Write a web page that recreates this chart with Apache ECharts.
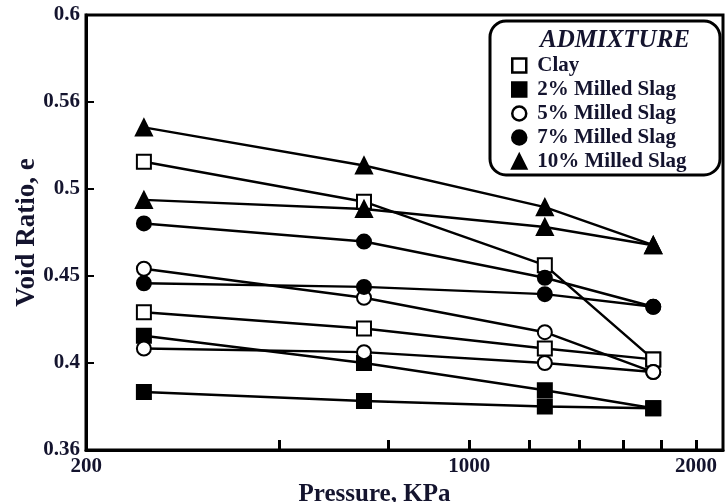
<!DOCTYPE html>
<html>
<head>
<meta charset="utf-8">
<script src="https://cdn.jsdelivr.net/npm/echarts@6/dist/echarts.min.js"></script>
<style>
  html, body { margin: 0; padding: 0; background: #fff; }
  #chart { width: 725px; height: 502px; }
</style>
</head>
<body>
<div id="chart"></div>
<script>
// Consolidation pressure (kPa) of each loading stage
const pressures = [370, 725, 1260, 1755];

// Void ratio e, two test curves per admixture
const clayUpper   = [0.519, 0.497, 0.462, 0.410];
const clayLower   = [0.436, 0.427, 0.416, 0.410];
const slag2Upper  = [0.423, 0.408, 0.393, 0.383];
const slag2Lower  = [0.392, 0.387, 0.384, 0.383];
const slag5Upper  = [0.460, 0.444, 0.425, 0.403];
const slag5Lower  = [0.416, 0.414, 0.408, 0.403];
const slag7Upper  = [0.485, 0.475, 0.455, 0.439];
const slag7Lower  = [0.452, 0.450, 0.446, 0.439];
const slag10Upper = [0.538, 0.517, 0.494, 0.473];
const slag10Lower = [0.498, 0.493, 0.483, 0.473];

const admixtures = ['Clay', '2% Milled Slag', '5% Milled Slag', '7% Milled Slag', '10% Milled Slag'];

// Axis ticks and labels
const xMin = 310, xMax = 2172;
const xLabelValues = [xMin * 1.001, 1000, 2000];
const xTickLabels = ['200', '1000', '2000'];
const xTickValues = [560, 780, 1000, 1200, 1400, 1600, 1800, 2000];
const yTickValues = [0.36, 0.408, 0.456, 0.504, 0.552, 0.6];
const yTickLabels = ['0.36', '0.4', '0.45', '0.5', '0.56', '0.6'];

const INK = '#000';
const TEXT = '#14142e';
const FONT = '"Liberation Serif", "Times New Roman", serif';

const markerStyles = {
  'Clay':            { symbol: 'rect',     size: 14, fill: '#fff' },
  '2% Milled Slag':  { symbol: 'rect',     size: 14, fill: INK },
  '5% Milled Slag':  { symbol: 'circle',   size: 14, fill: '#fff' },
  '7% Milled Slag':  { symbol: 'circle',   size: 14, fill: INK },
  '10% Milled Slag': { symbol: 'triangle', size: 16, fill: INK }
};

const curves = [
  ['Clay', clayUpper], ['Clay', clayLower],
  ['2% Milled Slag', slag2Upper], ['2% Milled Slag', slag2Lower],
  ['5% Milled Slag', slag5Upper], ['5% Milled Slag', slag5Lower],
  ['7% Milled Slag', slag7Upper], ['7% Milled Slag', slag7Lower],
  ['10% Milled Slag', slag10Upper], ['10% Milled Slag', slag10Lower]
];

const series = curves.map(([name, values]) => {
  const m = markerStyles[name];
  return {
    name: name,
    type: 'line',
    data: pressures.map((p, i) => [p, values[i]]),
    symbol: m.symbol,
    symbolSize: m.size,
    showAllSymbol: true,
    lineStyle: { color: INK, width: 2.5 },
    itemStyle: { color: m.fill, borderColor: INK, borderWidth: 2 },
    emphasis: { disabled: true },
    animation: false,
    z: 3
  };
});

const chart = echarts.init(document.getElementById('chart'), null, { renderer: 'canvas' });

chart.setOption({
  backgroundColor: '#fff',
  animation: false,
  grid: {
    left: 86, right: 2, top: 15, bottom: 52,
    show: true, borderColor: INK, borderWidth: 3,
    outerBoundsMode: 'none'
  },
  xAxis: {
    type: 'log',
    logBase: 10,
    min: xMin,
    max: xMax,
    name: 'Pressure, KPa',
    nameLocation: 'middle',
    nameGap: 25,
    nameTextStyle: { fontFamily: FONT, fontWeight: 'bold', fontSize: 25, color: TEXT, padding: [0, 60, 0, 0] },
    axisLine: { show: true, lineStyle: { color: INK, width: 3 } },
    axisTick: { show: true, inside: true, length: 10, lineStyle: { color: INK, width: 3 }, customValues: xTickValues },
    axisLabel: {
      customValues: xLabelValues,
      margin: 6,
      fontFamily: FONT, fontWeight: 'bold', fontSize: 21, color: TEXT,
      formatter: function (v) {
        const i = xLabelValues.findIndex(t => Math.abs(t - v) / t < 1e-6);
        return i >= 0 ? xTickLabels[i] : '';
      }
    },
    splitLine: { show: false },
    minorTick: { show: false }
  },
  yAxis: {
    type: 'value',
    min: 0.36,
    max: 0.6,
    name: 'Void Ratio, e',
    nameLocation: 'middle',
    nameGap: 45,
    nameMoveOverlap: false,
    nameTextStyle: { fontFamily: FONT, fontWeight: 'bold', fontSize: 27, color: TEXT },
    axisLine: { show: true, lineStyle: { color: INK, width: 3 } },
    axisTick: { show: true, inside: true, length: 8, lineStyle: { color: INK, width: 2 }, customValues: yTickValues.slice(1, -1) },
    axisLabel: {
      customValues: yTickValues,
      margin: 6,
      fontFamily: FONT, fontWeight: 'bold', fontSize: 21, color: TEXT,
      formatter: function (v) {
        const i = yTickValues.findIndex(t => Math.abs(t - v) < 1e-6);
        return i >= 0 ? yTickLabels[i] : '';
      }
    },
    splitLine: { show: false }
  },
  legend: {
    orient: 'vertical',
    left: 506,
    top: 50,
    itemWidth: 14,
    itemHeight: 14,
    itemGap: 3,
    selectedMode: false,
    textStyle: { fontFamily: FONT, fontWeight: 'bold', fontSize: 21, color: TEXT, padding: [0, 0, 0, 6] },
    data: admixtures.map(name => {
      const m = markerStyles[name];
      return {
        name: name,
        icon: m.symbol,
        itemStyle: { color: m.fill, borderColor: INK, borderWidth: 2.5 }
      };
    }),
    z: 10
  },
  graphic: [
    {
      type: 'rect',
      shape: { x: 490, y: 21, width: 230, height: 154, r: 16 },
      style: { fill: '#fff', stroke: INK, lineWidth: 3 },
      z: 5
    },
    {
      type: 'text',
      x: 615, y: 41,
      style: {
        text: 'ADMIXTURE',
        fontFamily: FONT, fontStyle: 'italic', fontWeight: 'bold', fontSize: 25,
        fill: TEXT, align: 'center', verticalAlign: 'middle'
      },
      z: 6
    }
  ],
  series: series
});
</script>
</body>
</html>
